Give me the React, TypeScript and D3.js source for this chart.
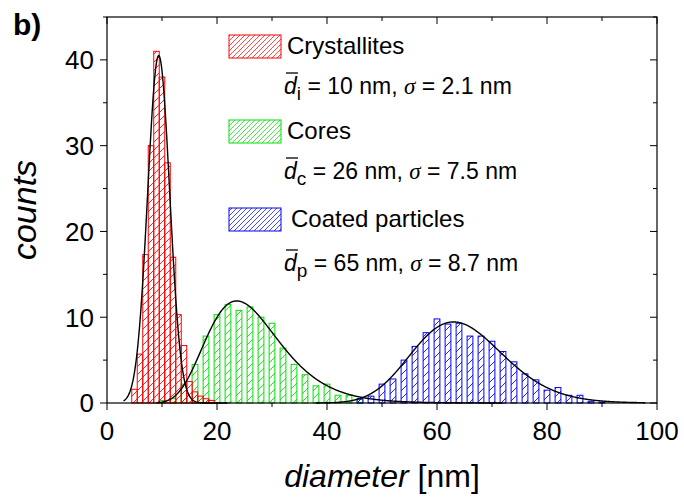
import * as d3 from 'd3';

// bar centres (nm) and counts
const redCenters = [5, 6, 7, 8, 9, 10, 11, 12, 13, 14, 15, 16, 17, 18, 19];
const redCounts = [1.6, 5.7, 17.3, 30, 41, 38, 28, 17, 10.3, 6.7, 2.5, 1.3, 0.8, 0.5, 0.3];

const greenCenters = [10, 12, 14, 16, 18, 20, 22, 24, 26, 28, 30, 32, 34, 36, 38, 40, 42, 44, 46];
const greenCounts = [0.3, 0.5, 2.2, 4.5, 7.8, 10.3, 11.5, 10.8, 11.2, 10.0, 9.3, 6.4, 4.5, 3.3, 2.0, 2.2, 0.9, 0.9, 0.4];

const blueCenters = [46, 48, 50, 52, 54, 56, 58, 60, 62, 64, 66, 68, 70, 72, 74, 76, 78, 80, 82, 84, 86, 88, 90];
const blueCounts = [0.5, 0.8, 2.2, 2.8, 5.0, 6.6, 8.2, 9.8, 9.2, 9.3, 7.8, 7.8, 7.2, 6.0, 4.8, 3.4, 2.7, 1.5, 1.8, 0.9, 0.9, 0.2, 0.1];

// fitted curves: [amplitude, peak position, width]
const redFit = [40.5, 9.4, 2.0]; // gaussian
const greenFit = [11.9, 23.6, 0.28]; // log-normal
const blueFit = [9.45, 63, 0.131]; // log-normal

const xTicks = [0, 20, 40, 60, 80, 100];
const yTicks = [0, 10, 20, 30, 40];

const legendNames = ['Crystallites', 'Cores', 'Coated particles'];
const legendSubs = ['i', 'c', 'p'];
const legendMeans = ['10', '26', '65'];
const legendSigmas = ['2.1', '7.5', '8.7'];

const W = 684;
const H = 499;
const left = 107, right = 657, top = 17, bottom = 403;

const x = d3.scaleLinear().domain([0, 100]).range([left, right]);
const y = d3.scaleLinear().domain([0, 45]).range([bottom, top]);

const gauss = (p: number[]) => (v: number) => p[0] * Math.exp(-((v - p[1]) ** 2) / (2 * p[2] ** 2));
const logn = (p: number[]) => (v: number) => p[0] * Math.exp(-(Math.log(v / p[1]) ** 2) / (2 * p[2] ** 2));

const line = d3.line<number[]>().x(d => x(d[0])).y(d => y(d[1]));
const curvePath = (f: (v: number) => number, a: number, b: number) =>
  line(d3.range(a, b, 0.1).map(v => [v, f(v)])) || '';

const font = '"Liberation Sans", Arial, sans-serif';

const App = () => {
  const colors = ['#ff0000', '#00e000', '#0000ff'];
  const barsOf = (centers: number[], counts: number[], w: number, i: number) =>
    centers.map((c, j) => (
      <rect key={j} x={x(c - w / 2)} y={y(counts[j])} width={x(c + w / 2) - x(c - w / 2)}
        height={y(0) - y(counts[j])} fill={`url(#hatch${i})`} stroke={colors[i]} strokeWidth={1} />
    ));

  const legendY = [35, 120, 208];
  const statY = [94, 179, 271];
  const nameX = [287, 287, 291];

  return (
    <svg width={W} height={H} style={{ position: 'absolute', left: 0, top: 0 }}>
      <defs>
        {colors.map((c, i) => (
          <pattern key={i} id={`hatch${i}`} patternUnits="userSpaceOnUse" width={8} height={8}>
            <path d="M-2,2 L2,-2 M0,8 L8,0 M6,10 L10,6" stroke={c} strokeWidth={1} strokeOpacity={0.85} />
          </pattern>
        ))}
        {colors.map((c, i) => (
          <pattern key={'l' + i} id={`lhatch${i}`} patternUnits="userSpaceOnUse" width={5} height={5}>
            <path d="M-1,1 L1,-1 M0,5 L5,0 M4,6 L6,4" stroke={c} strokeWidth={0.9} strokeOpacity={0.8} />
          </pattern>
        ))}
      </defs>
      <rect width={W} height={H} fill="#fff" />

      {barsOf(greenCenters, greenCounts, 1.05, 1)}
      {barsOf(blueCenters, blueCounts, 1.05, 2)}
      {barsOf(redCenters, redCounts, 1, 0)}

      <path d={curvePath(gauss(redFit), 3, 22)} fill="none" stroke="#000" strokeWidth={1.4} />
      <path d={curvePath(logn(greenFit), 9, 72)} fill="none" stroke="#000" strokeWidth={1.4} />
      <path d={curvePath(logn(blueFit), 38, 98)} fill="none" stroke="#000" strokeWidth={1.4} />

      {/* frame */}
      <rect x={left} y={top} width={right - left} height={bottom - top} fill="none" stroke="#000" strokeWidth={1.2} />

      {/* x ticks */}
      {d3.range(0, 101, 10).map(v => {
        const major = v % 20 === 0;
        const len = major ? 7 : 4;
        return (
          <g key={'x' + v}>
            <line x1={x(v)} x2={x(v)} y1={bottom} y2={bottom + len} stroke="#000" />
            <line x1={x(v)} x2={x(v)} y1={top} y2={top + len} stroke="#000" />
          </g>
        );
      })}
      {xTicks.map(v => (
        <text key={'xl' + v} x={x(v)} y={bottom + 37} textAnchor="middle" fontFamily={font} fontSize={26}>{v}</text>
      ))}

      {/* y ticks */}
      {d3.range(0, 46, 5).map(v => {
        const major = v % 10 === 0;
        const len = major ? 7 : 4;
        return (
          <g key={'y' + v}>
            <line x1={left - len} x2={left} y1={y(v)} y2={y(v)} stroke="#000" />
            <line x1={right - len} x2={right} y1={y(v)} y2={y(v)} stroke="#000" />
          </g>
        );
      })}
      {yTicks.map(v => (
        <text key={'yl' + v} x={left - 13} y={y(v)} dy="0.36em" textAnchor="end" fontFamily={font} fontSize={26}>{v}</text>
      ))}

      <text x={(left + right) / 2} y={487} textAnchor="middle" fontFamily={font} fontSize={32}>
        <tspan fontStyle="italic">diameter</tspan> [nm]
      </text>
      <text transform={`translate(36,${(top + bottom) / 2}) rotate(-90)`} textAnchor="middle"
        fontFamily={font} fontSize={34} fontStyle="italic">counts</text>

      <text x={13} y={35} fontFamily={font} fontSize={30} fontWeight="bold">b)</text>

      {/* legend */}
      {legendNames.map((n, i) => (
        <g key={'lg' + i}>
          <rect x={229} y={legendY[i]} width={52} height={23} fill={`url(#lhatch${i})`} stroke={colors[i]} strokeWidth={1} />
          <text x={nameX[i]} y={legendY[i] + 19} fontFamily={font} fontSize={24}>{n}</text>
          <line x1={286} x2={298} y1={statY[i] - 21} y2={statY[i] - 21} stroke="#000" strokeWidth={1.3} />
          <text x={284} y={statY[i]} fontFamily={font} fontSize={23}>
            <tspan fontStyle="italic">d</tspan>
            <tspan dy={6} fontSize={19}>{legendSubs[i]}</tspan>
            <tspan dy={-6}>{` = ${legendMeans[i]} nm, `}</tspan>
            <tspan fontFamily='"Liberation Serif", serif' fontStyle="italic">σ</tspan>
            <tspan>{` = ${legendSigmas[i]} nm`}</tspan>
          </text>
        </g>
      ))}
    </svg>
  );
};

export default App;
